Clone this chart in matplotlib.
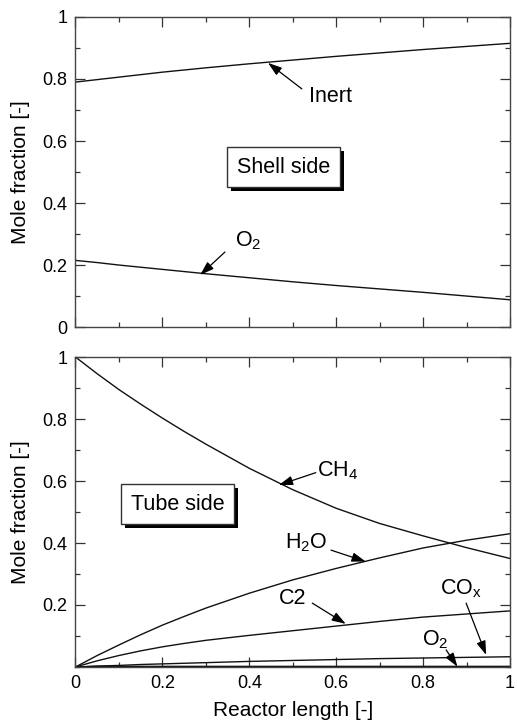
import matplotlib.pyplot as plt
from matplotlib.ticker import MultipleLocator, FixedLocator
from matplotlib.patches import Rectangle
from matplotlib.transforms import IdentityTransform

plt.rcParams['font.family'] = ['Liberation Sans', 'DejaVu Sans']
plt.rcParams['font.size'] = 15
plt.rcParams['mathtext.fontset'] = 'custom'
plt.rcParams['mathtext.rm'] = 'Liberation Sans'
plt.rcParams['mathtext.it'] = 'Liberation Sans'

# reactor length positions
x = [0.0, 0.05, 0.1, 0.15, 0.2, 0.25, 0.3, 0.4, 0.5, 0.6, 0.7, 0.8, 0.9, 1.0]

# shell side
inert_shell = [0.79, 0.798, 0.806, 0.814, 0.822, 0.829, 0.836, 0.849, 0.861, 0.873, 0.884, 0.895, 0.905, 0.915]
o2_shell = [0.215, 0.208, 0.200, 0.193, 0.186, 0.179, 0.172, 0.159, 0.146, 0.134, 0.123, 0.112, 0.100, 0.088]

# tube side
ch4_tube = [1.0, 0.946, 0.895, 0.848, 0.803, 0.76, 0.719, 0.641, 0.572, 0.512, 0.463, 0.423, 0.385, 0.35]
h2o_tube = [0.0, 0.037, 0.071, 0.104, 0.135, 0.163, 0.19, 0.238, 0.281, 0.318, 0.352, 0.384, 0.409, 0.43]
c2_tube = [0.0, 0.02, 0.037, 0.052, 0.065, 0.076, 0.086, 0.102, 0.117, 0.132, 0.147, 0.161, 0.171, 0.181]
cox_tube = [0.0, 0.003, 0.005, 0.008, 0.01, 0.012, 0.014, 0.018, 0.021, 0.024, 0.027, 0.029, 0.031, 0.033]
o2_tube = [0.0, 0.002, 0.002, 0.002, 0.002, 0.002, 0.002, 0.002, 0.002, 0.002, 0.002, 0.002, 0.002, 0.002]

line_kw = dict(color='#111111', lw=1.0)
arrow_kw = dict(arrowstyle='-|>,head_length=0.6,head_width=0.2', color='black', lw=0.9,
                mutation_scale=14, shrinkA=0, shrinkB=0)


def style_axes(ax, yticks, ylabels):
    ax.set_xlim(0, 1)
    ax.set_ylim(0, 1)
    ax.xaxis.set_major_locator(MultipleLocator(0.2))
    ax.xaxis.set_minor_locator(MultipleLocator(0.1))
    ax.yaxis.set_major_locator(FixedLocator(yticks))
    ax.yaxis.set_minor_locator(MultipleLocator(0.1))
    ax.set_yticklabels(ylabels)
    ax.tick_params(which='both', direction='in', top=True, right=True, colors='#333333',
                   labelcolor='black', width=0.9, labelsize=13)
    ax.tick_params(which='major', length=7, pad=6)
    ax.tick_params(which='minor', length=3.5)
    for sp in ax.spines.values():
        sp.set_color('#444444')
        sp.set_linewidth(1.0)
    ax.set_ylabel('Mole fraction [-]', labelpad=9)


def pointer(ax, label, head, tail, text_xy):
    ax.annotate('', xy=head, xytext=tail, arrowprops=arrow_kw)
    ax.text(text_xy[0], text_xy[1], label, ha='left', va='center', fontsize=15.5)


fig = plt.figure(figsize=(5.17, 7.22), dpi=100)
ax1 = fig.add_axes([0.146, 0.547, 0.8405, 0.4295])
ax2 = fig.add_axes([0.146, 0.0762, 0.8405, 0.4293])

# shell side panel
ax1.plot(x, inert_shell, **line_kw)
ax1.plot(x, o2_shell, **line_kw)
style_axes(ax1, [0, 0.2, 0.4, 0.6, 0.8, 1.0], ['0', '0.2', '0.4', '0.6', '0.8', '1'])
ax1.set_xticklabels([])
pointer(ax1, 'Inert', (0.443, 0.852), (0.521, 0.768), (0.538, 0.742))
pointer(ax1, 'O$_2$', (0.287, 0.168), (0.344, 0.242), (0.366, 0.28))
box1 = ax1.text(0.478, 0.516, 'Shell side', ha='center', va='center', zorder=5, fontsize=15.5,
                bbox=dict(boxstyle='square,pad=0.45', fc='white', ec='#333333', lw=1))

# tube side panel
for series in (ch4_tube, h2o_tube, c2_tube, cox_tube, o2_tube):
    ax2.plot(x, series, **line_kw)
style_axes(ax2, [0.2, 0.4, 0.6, 0.8, 1.0], ['0.2', '0.4', '0.6', '0.8', '1'])
ax2.set_xticks([0, 0.2, 0.4, 0.6, 0.8, 1.0])
ax2.set_xticklabels(['0', '0.2', '0.4', '0.6', '0.8', '1'])
ax2.set_xlabel('Reactor length [-]', labelpad=6)

pointer(ax2, 'CH$_4$', (0.468, 0.587), (0.553, 0.627), (0.556, 0.632))
pointer(ax2, 'H$_2$O', (0.668, 0.34), (0.588, 0.377), (0.483, 0.402))
pointer(ax2, 'C2', (0.622, 0.139), (0.545, 0.206), (0.468, 0.222))
pointer(ax2, 'CO$_x$', (0.945, 0.039), (0.899, 0.206), (0.838, 0.252))
pointer(ax2, 'O$_2$', (0.879, 0.001), (0.853, 0.055), (0.798, 0.088))
box2 = ax2.text(0.235, 0.525, 'Tube side', ha='center', va='center', zorder=5, fontsize=15.5,
                bbox=dict(boxstyle='square,pad=0.45', fc='white', ec='#333333', lw=1))

# drop shadows behind the two label boxes
fig.canvas.draw()
for ax, t in ((ax1, box1), (ax2, box2)):
    bb = t.get_bbox_patch().get_window_extent()
    shadow = Rectangle((bb.x0 + 4, bb.y0 - 4), bb.width, bb.height, transform=IdentityTransform(),
                       fc='black', ec='none', zorder=4.9, clip_on=False)
    ax.add_patch(shadow)

fig.savefig('out.png', dpi=100)
